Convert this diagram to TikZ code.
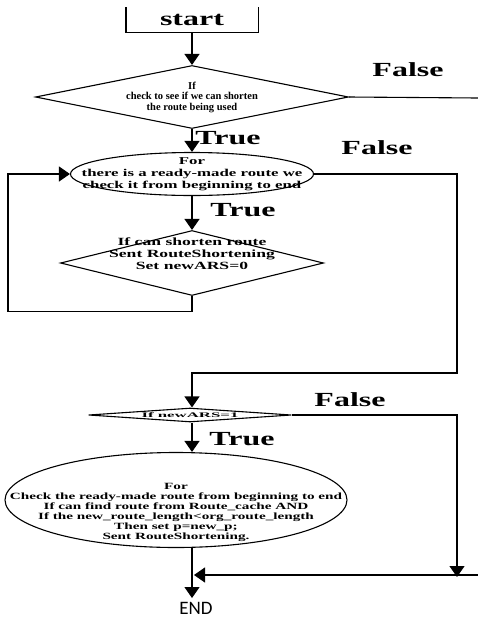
\documentclass[tikz,border=0pt]{standalone}
\usepackage{fontspec}
\setmainfont{Liberation Serif}
\newfontfamily\widefont[FakeStretch=1.6]{Liberation Serif}
\newfontfamily\flatfont[FakeStretch=2.4]{Liberation Serif}
\newfontfamily\endfont{Carlito}
\usetikzlibrary{arrows.meta,shapes.geometric}

\begin{document}
\begin{tikzpicture}[x=1pt, y=-1pt, line width=1.1pt, >={Triangle[width=15pt,length=11pt]},
  test/.style={diamond, draw, inner sep=-80pt, align=center},
  loopbox/.style={ellipse, draw, inner sep=-80pt, align=center},
  branch/.style={font=\widefont\bfseries\fontsize{20}{22}\selectfont}]
\useasboundingbox (0,0) rectangle (478,622);
\node[inner sep=-80pt, minimum width=131pt, minimum height=24pt, font=\widefont\bfseries\fontsize{20}{22}\selectfont] (start) at (192,20) {start};
\node[test, minimum width=313pt, minimum height=63pt, font=\bfseries\fontsize{10.5}{10.5}\selectfont] (check) at (192,97) {If\\check to see if we can shorten\\the route being used};
\node[loopbox, minimum width=243pt, minimum height=43pt, font=\widefont\bfseries\fontsize{10.5}{12}\selectfont] (forroute) at (192,174) {For\\there is a ready-made route we\\check it from beginning to end};
\node[test, minimum width=263pt, minimum height=65pt, font=\widefont\bfseries\fontsize{11}{12}\selectfont] (shorten) at (192,263) {If can shorten route\\Sent RouteShortening\\Set newARS=0\rule[-18pt]{0pt}{18pt}};
\node[test, minimum width=203pt, minimum height=14pt, font=\flatfont\bfseries\fontsize{7}{7}\selectfont] (newars) at (190,415) {If newARS=1};
\node[loopbox, minimum width=342pt, minimum height=95pt, font=\widefont\bfseries\fontsize{9.5}{10}\selectfont] (forcache) at (176,500) {\rule{0pt}{32pt}For\\Check the ready-made route from beginning to end\\If can find route from Route\_cache AND\\If the new\_route\_length<org\_route\_length\\Then set p=new\_p;\\Sent RouteShortening.};
\node[font=\endfont\fontsize{19}{20}\selectfont] (end) at (196,608) {END};
\coordinate (out1) at (478,98);
\coordinate (out2) at (478,575);
\coordinate (join) at (194,575);
% branch labels
\node[branch] (f1) at (408,70) {False};
\node[branch] (t1) at (228,138) {True};
\node[branch] (f2) at (377,148) {False};
\node[branch] (t2) at (243,210) {True};
\node[branch] (f3) at (350,400) {False};
\node[branch] (t3) at (242,439) {True};
\draw (start.north west) -- (start.south west) -- (start.south east) -- (start.north east);
\draw[->] (start.south) -- (check.north); \draw (check.east) -- (out1); \draw[->] (check.south) -- (forroute.north);
\draw[->] (forroute.south) -- (shorten.north);
\draw[->] (shorten.south) -- ++(0,15) -| (8,174) -- (forroute.west);
\draw[->] (forroute.east) -| (457,373) -| (newars.north -| start.south);
\draw[->] (newars.east) -| (457,577);
\draw[->] (out2) -- (join);
\draw[->] (newars.south -| start.south) -- (start.south |- forcache.north);
\draw[->] (start.south |- forcache.south) -- (start.south |- end.north);
\end{tikzpicture}
\end{document}
